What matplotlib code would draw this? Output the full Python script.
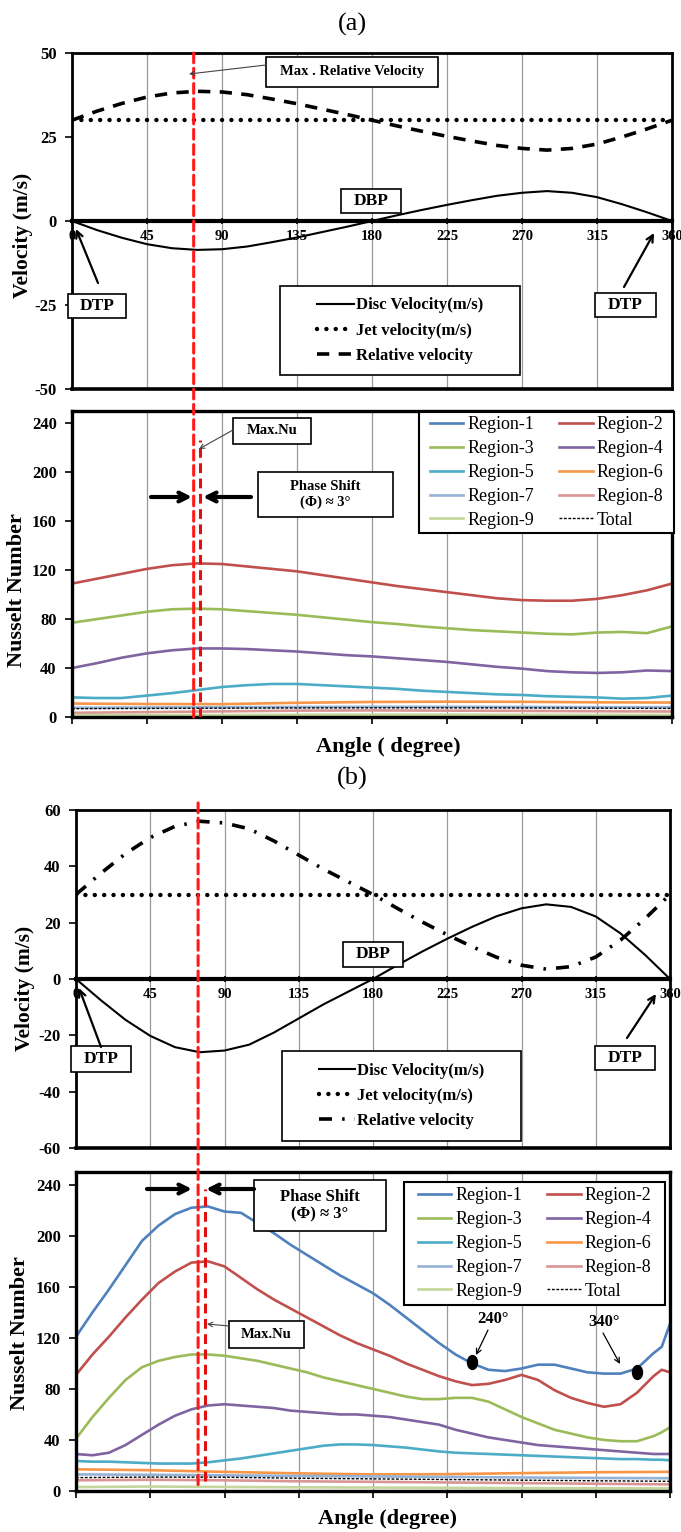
#!/usr/bin/env python3
import matplotlib
matplotlib.use("Agg")
from matplotlib import pyplot as plt
from matplotlib.patches import Rectangle, FancyArrowPatch, ConnectionPatch
from matplotlib.path import Path
import matplotlib.transforms as mtransforms

W, H = 681, 1532

ANGLE_TICKS = [0, 45, 90, 135, 180, 225, 270, 315, 360]

# velocity curves, read every 15 degrees
VEL_ANGLE = [0, 15, 30, 45, 60, 75, 90, 105, 120, 135, 150, 165, 180,
             195, 210, 225, 240, 255, 270, 285, 300, 315, 330, 345, 360]
JET_VELOCITY = 30
DISC_A = [0, -2.7, -5.0, -6.9, -8.1, -8.6, -8.4, -7.6, -6.3, -4.9, -3.3, -1.7, 0,
          1.7, 3.3, 4.8, 6.2, 7.5, 8.4, 8.9, 8.4, 7.1, 5.0, 2.6, 0]
REL_A = [30, 32.7, 35.0, 36.9, 38.1, 38.6, 38.4, 37.6, 36.3, 34.9, 33.3, 31.7, 30.0,
         28.3, 26.7, 25.2, 23.8, 22.5, 21.6, 21.1, 21.6, 22.9, 25.0, 27.4, 30.0]
DISC_B = [0, -7.5, -14.5, -20.2, -24.2, -26.0, -25.4, -23.3, -19.0, -14.0, -9.0, -4.5, 0,
          5.0, 9.8, 14.3, 18.5, 22.3, 25.1, 26.5, 25.6, 22.2, 16.2, 8.5, 0]
REL_B = [30, 37.5, 44.5, 50.2, 54.2, 56.0, 55.4, 53.3, 49.0, 44.0, 39.0, 34.5, 30,
         25.0, 20.2, 15.7, 11.5, 7.7, 4.9, 3.5, 4.4, 7.8, 13.8, 21.5, 30]

# Nusselt numbers, case (a)
NU_ANGLE_A = VEL_ANGLE
NU_A_R2 = [109, 113, 117, 121, 124, 125.5, 125, 123, 121, 119, 116, 113, 110,
           107, 104.5, 102, 99.5, 97, 95.5, 95, 95, 96.5, 99.5, 103.5, 109]
NU_A_R3 = [77, 80, 83, 86, 88, 88.5, 88, 86.5, 85, 83.5, 81.5, 79.5, 77.5,
           76, 74, 72.5, 71, 70, 69, 68, 67.5, 69, 69.5, 68.5, 74]
NU_A_R4 = [40, 44, 48.5, 52, 54.5, 56, 56, 55.5, 54.5, 53.5, 52, 50.5, 49.5,
           48, 46.5, 45, 43, 41, 39.5, 37.5, 36.5, 36, 36.5, 38, 37.5]
NU_A_R5 = [16, 15.5, 15.5, 17.5, 19.5, 22, 24.5, 26, 27, 27, 26, 25, 24,
           23, 21.5, 20.5, 19.5, 18.5, 18, 17, 16.5, 16, 15, 15.5, 17.5]
COARSE_ANGLE = ANGLE_TICKS
NU_A_R1 = [0.6, 0.6, 0.7, 0.8, 0.8, 0.8, 0.8, 0.7, 0.7]
NU_A_R6 = [11, 10.6, 10.5, 11.6, 12.3, 12.5, 12.4, 12, 11.8]
NU_A_R7 = [7.5, 7.8, 8, 8.2, 8.3, 8.3, 8.2, 8, 8]
NU_A_R8 = [3.4, 4, 4.6, 5.2, 5.4, 5.2, 5, 4.7, 4.5]
NU_A_R9 = [1.5, 1.5, 1.6, 1.8, 1.9, 1.9, 1.8, 1.7, 1.7]
NU_A_TOTAL = [6.8, 7, 7.2, 7.4, 7.5, 7.5, 7.4, 7.2, 7]

# Nusselt numbers, case (b)
NU_ANGLE_B = [0, 10, 20, 30, 40, 50, 60, 70, 80, 90, 100, 110, 120, 130, 140, 150, 160, 170,
              180, 190, 200, 210, 220, 230, 240, 250, 260, 270, 280, 290, 300, 310, 320, 330,
              340, 350, 355, 360]
NU_B_R1 = [121, 140, 158, 177, 196, 208, 217, 222, 223, 219, 218, 210, 202, 193, 185, 177, 169, 162,
           155, 146, 136, 126, 116, 107, 100, 95, 94, 96, 99, 99, 96, 93, 92, 92,
           96, 108, 113, 131]
NU_B_R2 = [91, 107, 121, 136, 150, 163, 172, 179, 180, 176, 167, 158, 150, 143, 136, 129, 122, 116,
           111, 106, 100, 95, 90, 86, 83, 84, 87, 91, 87, 79, 73, 69, 66, 68,
           77, 90, 95, 93]
NU_B_R3 = [41, 58, 73, 87, 97, 102, 105, 107, 107, 106, 104, 102, 99, 96, 93, 89, 86, 83,
           80, 77, 74, 72, 72, 73, 73, 70, 64, 58, 53, 48, 45, 42, 40, 39,
           39, 43, 46, 50]
NU_B_R4 = [29, 28, 30, 36, 44, 52, 59, 64, 67, 68, 67, 66, 65, 63, 62, 61, 60, 60,
           59, 58, 56, 54, 52, 48, 45, 42, 40, 38, 36, 35, 34, 33, 32, 31,
           30, 29, 29, 29]
NU_B_R5 = [23.5, 23, 23, 22.5, 22, 21.5, 21.5, 21.5, 22.5, 24, 25.5, 27.5, 29.5, 31.5, 33.5, 35.5, 36.5, 36.5,
           36, 35, 34, 32.5, 31, 30, 29.5, 29, 28.5, 28, 27.5, 27, 26.5, 26, 25.5, 25,
           25, 24.5, 24.5, 24]
NU_B_R6 = [17, 16.3, 15, 13.8, 13, 13.2, 14, 14.7, 15]
NU_B_R7 = [13, 12.7, 12.3, 11.8, 11.4, 11, 10.6, 10.2, 10]
NU_B_R8 = [8.4, 8.8, 8.4, 7.6, 7.2, 6.7, 6.2, 5.7, 5.2]
NU_B_R9 = [3.1, 3.5, 3.2, 2.9, 2.7, 2.5, 2.2, 2.1, 2.0]
NU_B_TOTAL = [10.5, 10.9, 10.8, 10, 9.5, 9, 8.5, 8, 7.6]

# local minima marked in case (b)
MARK_ANGLE = [240, 340]
MARK_NU = [101, 93]

# angle of peak relative velocity and of peak Nu
PEAK_A = (73, 77)
PEAK_B = (74, 78)

REGION_COLORS = ["#4F81BD", "#C0504D", "#9BBB59", "#8064A2", "#4BACC6",
                 "#F79646", "#95B3D7", "#D99694", "#C3D69B"]

plt.rcParams.update({
    "font.family": ["Liberation Serif", "DejaVu Serif"],
    "font.weight": "bold",
    "axes.linewidth": 2.0,
    "axes.unicode_minus": False,
})

fig = plt.figure(figsize=(W / 100, H / 100), dpi=100)


def rect(x0, y0, x1, y1):
    return [x0 / W, 1 - y1 / H, (x1 - x0) / W, (y1 - y0) / H]


def fp(x, y):
    return (x / W, 1 - y / H)


def box(x0, y0, x1, y1, text, size, lw=1.2):
    fig.add_artist(Rectangle(fp(x0, y1), (x1 - x0) / W, (y1 - y0) / H, transform=fig.transFigure,
                             fc="white", ec="black", lw=lw, zorder=5))
    fig.text((x0 + x1) / 2 / W, 1 - (y0 + y1) / 2 / H, text, ha="center", va="center",
             fontsize=size, fontweight="bold", zorder=6, linespacing=1.15)


def arrow(p0, p1, lw=1.5, color="black", style="-|>", ms=14):
    fig.add_artist(FancyArrowPatch(fp(*p0), fp(*p1), transform=fig.transFigure, arrowstyle=style,
                                   mutation_scale=ms, lw=lw, color=color, zorder=7,
                                   shrinkA=0, shrinkB=0))


def velocity_axes(r, ylim, yticks, disc, rel, rel_style):
    ax = fig.add_axes(r)
    ax.plot(VEL_ANGLE, disc, color="black", lw=1.5, label="Disc Velocity(m/s)")
    ax.plot(VEL_ANGLE, [JET_VELOCITY] * len(VEL_ANGLE), color="black", lw=3.2,
            ls=(0, (0.01, 2.1)), dash_capstyle="round", label="Jet velocity(m/s)")
    ax.plot(VEL_ANGLE, rel, color="black", lw=2.6, ls=rel_style, label="Relative velocity")
    ax.set_xlim(0, 360)
    ax.set_ylim(*ylim)
    ax.set_xticks(ANGLE_TICKS)
    ax.set_yticks(yticks)
    ax.grid(axis="x", color="#9A9A9A", lw=0.9)
    ax.set_axisbelow(True)
    ax.spines["bottom"].set_position(("data", 0))
    ax.spines["bottom"].set_linewidth(3)
    ax.axhline(ylim[0], color="black", lw=2.6, clip_on=False)
    ax.tick_params(axis="x", direction="inout", length=5, width=1.2, labelsize=10.5, pad=4)
    ax.tick_params(axis="y", direction="out", length=5, width=1.2, labelsize=12, pad=6)
    return ax


def nusselt_axes(r, series):
    ax = fig.add_axes(r)
    handles = []
    for label, angles, values, color, style, lw in series:
        h, = ax.plot(angles, values, color=color, ls=style, lw=lw, label=label)
        handles.append(h)
    ax.set_xlim(0, 360)
    ax.set_ylim(0, 250)
    ax.set_xticks(ANGLE_TICKS)
    ax.set_xticklabels([])
    ax.set_yticks([0, 40, 80, 120, 160, 200, 240])
    ax.grid(axis="x", color="#9A9A9A", lw=0.9)
    ax.set_axisbelow(True)
    for s in ax.spines.values():
        s.set_linewidth(2.4)
    ax.tick_params(axis="x", direction="out", length=5, width=1.2)
    ax.tick_params(axis="y", direction="out", length=5, width=1.2, labelsize=12, pad=6)
    return ax, handles


def nusselt_legend(ax, handles, x0, y0, x1, y1):
    ax.add_patch(Rectangle(fp(x0, y1), (x1 - x0) / W, (y1 - y0) / H, transform=fig.transFigure,
                           fc="white", ec="black", lw=1.5, zorder=20, clip_on=False))
    order = [0, 2, 4, 6, 8, 1, 3, 5, 7, 9]
    leg = ax.legend([handles[i] for i in order], [handles[i].get_label() for i in order],
                    ncol=2, loc="center", bbox_to_anchor=((x0 + x1) / 2 / W, 1 - (y0 + y1) / 2 / H),
                    bbox_transform=fig.transFigure, frameon=False,
                    prop={"weight": "normal", "size": 13}, handlelength=1.85,
                    handletextpad=0.2, columnspacing=1.4, labelspacing=0.38, borderpad=0)
    leg.set_zorder(21)


def velocity_legend(ax, x0, y0, x1, y1):
    ax.add_patch(Rectangle(fp(x0, y1), (x1 - x0) / W, (y1 - y0) / H, transform=fig.transFigure,
                           fc="white", ec="black", lw=1.2, zorder=20, clip_on=False))
    leg = ax.legend(loc="center", bbox_to_anchor=((x0 + x1) / 2 / W, 1 - (y0 + y1) / 2 / H),
                    bbox_transform=fig.transFigure, frameon=False,
                    prop={"weight": "bold", "size": 12}, handlelength=2.2,
                    handletextpad=0.1, labelspacing=0.55, borderpad=0)
    leg.set_zorder(21)


def region_series(angles, coarse, main, minor, total):
    out = []
    for i in range(9):
        if main[i] is not None:
            out.append(("Region-%d" % (i + 1), angles, main[i], REGION_COLORS[i], "-", 1.9))
        else:
            out.append(("Region-%d" % (i + 1), coarse, minor[i], REGION_COLORS[i], "-", 1.9))
    out.append(("Total", coarse, total, "black", (0, (2, 1.2)), 1.0))
    return out


# ---------------- (a) ----------------
fig.text(352 / W, 1 - 24 / H, "(a)", ha="center", va="center", fontsize=19, fontweight="normal")

va = velocity_axes(rect(72, 53, 672, 389), (-50, 50), [-50, -25, 0, 25, 50], DISC_A, REL_A,
                   (0, (3.4, 2.6)))
velocity_legend(va, 280, 286, 520, 375)
fig.text(23 / W, 1 - 235 / H, "Velocity (m/s)", rotation=90, ha="center", va="center", fontsize=15.5)

series_a = region_series(NU_ANGLE_A, COARSE_ANGLE,
                         [None, NU_A_R2, NU_A_R3, NU_A_R4, NU_A_R5, None, None, None, None],
                         [NU_A_R1, None, None, None, None, NU_A_R6, NU_A_R7, NU_A_R8, NU_A_R9],
                         NU_A_TOTAL)
na, handles_a = nusselt_axes(rect(72, 411, 672, 717), series_a)
nusselt_legend(na, handles_a, 419, 412, 674, 533)
fig.text(17 / W, 1 - 590 / H, "Nusselt Number", rotation=90, ha="center", va="center", fontsize=16)
fig.text(388 / W, 1 - 747 / H, "Angle ( degree)", ha="center", va="center", fontsize=16)

red_dash = (0, (3.2, 1.8))
fig.add_artist(ConnectionPatch(xyA=(PEAK_A[0], 50), coordsA=va.transData,
                               xyB=(PEAK_A[0], 0), coordsB=na.transData,
                               color="#FF1A1A", lw=2.2, ls=red_dash, zorder=4))
na.plot([PEAK_A[1], PEAK_A[1]], [0, 226], color="#E01010", lw=2.2, ls=red_dash, zorder=4)

box(266, 57, 438, 87, "Max . Relative Velocity", 10.5)
arrow((266, 65), (189, 74), lw=0.8, color="#444444", style="->", ms=8)
box(341, 189, 401, 213, "DBP", 12.5)
box(68, 294, 126, 318, "DTP", 12.5)
arrow((98, 283), (76, 229), lw=1.6, style="->", ms=12)
box(595, 293, 656, 317, "DTP", 12.5)
arrow((624, 287), (654, 233), lw=1.6, style="->", ms=12)

box(233, 418, 311, 444, "Max.Nu", 10.5)
arrow((233, 430), (199, 449), lw=0.8, color="#444444", style="->", ms=8)
box(258, 472, 393, 517, "Phase Shift\n(\u03a6) \u2248 3\u00b0", 10.5)
arrow((151, 497), (192, 497), lw=3, style="->", ms=16)
arrow((251, 497), (203, 497), lw=3, style="->", ms=16)

# ---------------- (b) ----------------
fig.text(352 / W, 1 - 778 / H, "(b)", ha="center", va="center", fontsize=19, fontweight="normal")

vb = velocity_axes(rect(76, 810, 670, 1148), (-60, 60), [-60, -40, -20, 0, 20, 40, 60], DISC_B, REL_B,
                   (0, (3.6, 2.8, 0.7, 2.8)))
velocity_legend(vb, 282, 1051, 521, 1141)
fig.text(25 / W, 1 - 988 / H, "Velocity (m/s)", rotation=90, ha="center", va="center", fontsize=15.5)

series_b = region_series(NU_ANGLE_B, COARSE_ANGLE,
                         [NU_B_R1, NU_B_R2, NU_B_R3, NU_B_R4, NU_B_R5, None, None, None, None],
                         [None, None, None, None, None, NU_B_R6, NU_B_R7, NU_B_R8, NU_B_R9],
                         NU_B_TOTAL)
nb, handles_b = nusselt_axes(rect(76, 1172, 670, 1491), series_b)
nusselt_legend(nb, handles_b, 404, 1182, 665, 1305)
fig.text(20 / W, 1 - 1333 / H, "Nusselt Number", rotation=90, ha="center", va="center", fontsize=16)
fig.text(388 / W, 1 - 1519 / H, "Angle (degree)", ha="center", va="center", fontsize=16)

ellipse = Path.unit_circle().transformed(mtransforms.Affine2D().scale(0.72, 1.0))
nb.plot(MARK_ANGLE, MARK_NU, ls="none", marker=ellipse, ms=10, color="black", zorder=6)

fig.add_artist(ConnectionPatch(xyA=(PEAK_B[0], 62.5), coordsA=vb.transData,
                               xyB=(PEAK_B[0], 5), coordsB=nb.transData,
                               color="#FF1A1A", lw=2.2, ls=red_dash, zorder=4))
nb.plot([PEAK_B[1], PEAK_B[1]], [8, 237], color="#E01010", lw=2.2, ls=red_dash, zorder=4)

box(343, 942, 403, 967, "DBP", 12.5)
box(71, 1046, 131, 1072, "DTP", 12.5)
arrow((101, 1047), (79, 988), lw=1.6, style="->", ms=12)
box(595, 1046, 655, 1070, "DTP", 12.5)
arrow((627, 1038), (656, 994), lw=1.6, style="->", ms=12)

box(254, 1180, 386, 1231, "Phase Shift\n(\u03a6) \u2248 3\u00b0", 12)
arrow((147, 1189), (192, 1189), lw=3, style="->", ms=16)
arrow((254, 1189), (206, 1189), lw=3, style="->", ms=16)
box(229, 1321, 304, 1348, "Max.Nu", 10.5)
arrow((229, 1326), (207, 1324), lw=0.8, color="#444444", style="->", ms=8)

fig.text(493 / W, 1 - 1319 / H, "240\u00b0", ha="center", va="center", fontsize=12)
arrow((488, 1330), (476, 1355), lw=0.9, style="->", ms=9)
fig.text(604 / W, 1 - 1322 / H, "340\u00b0", ha="center", va="center", fontsize=12)
arrow((603, 1333), (620, 1364), lw=0.9, style="->", ms=9)

fig.savefig("out.png", dpi=100)
